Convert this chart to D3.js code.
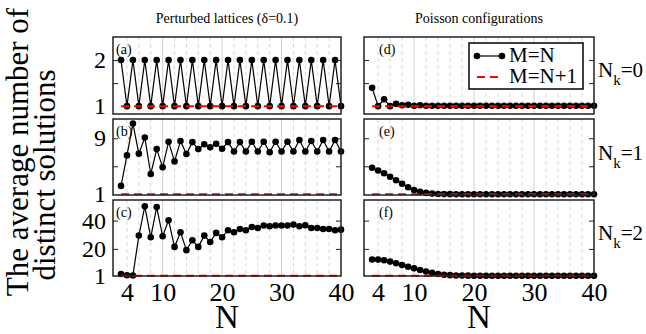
<!DOCTYPE html>
<html>
<head>
<meta charset="utf-8">
<script src="https://cdn.jsdelivr.net/npm/d3@7"></script>
<style>
  body { margin: 0; background: #fff; }
  svg { display: block; }
  svg text { font-family: "Liberation Serif", "Times New Roman", Tinos, "Nimbus Roman", "DejaVu Serif", serif !important; fill: #000; }
</style>
</head>
<body>
<svg id="chart" width="646" height="334"></svg>
<script>
// N values (system size)
const nValues = [3,4,5,6,7,8,9,10,11,12,13,14,15,16,17,18,19,20,21,22,23,24,25,26,27,28,29,30,31,32,33,34,35,36,37,38,39,40];

// Perturbed lattices, M=N
const latticeNk0 = [2,1,2,1,2,1,2,1,2,1,2,1,2,1,2,1,2,1,2,1,2,1,2,1,2,1,2,1,2,1,2,1,2,1,2,1,2,1];
const latticeNk1 = [2.2,6.55,11.1,6.8,9.1,3.9,7.45,4.85,8.5,5.7,8.6,6.75,8.45,7.45,8.15,7.7,8.2,7.5,8.45,7.1,8.45,7.1,8.5,7.1,8.5,7.0,8.5,7.1,8.5,7.1,8.75,7.1,8.6,7.1,8.75,7.1,8.75,7.1];
const latticeNk2 = [2.2,1.3,1.2,29.4,50.1,28.2,49.6,28.9,40.2,21.4,31.8,19.1,26.1,21.4,29.4,24.9,31.3,28.2,33.2,31.8,34.1,33.2,35.5,34.8,36.5,36,36.5,36.5,36.5,37.2,36,36.7,34.8,34.8,34.1,34.1,33.2,33.6];

// Poisson configurations, M=N
const poissonNk0 = [1.4,1.0,1.15,1.0,1.05,1.02,1.03,1.01,1.02,1.01,1.01,1.01,1.01,1.01,1.01,1.01,1.01,1.01,1.01,1.01,1.01,1.01,1.01,1.01,1.01,1.01,1.01,1.01,1.01,1.01,1.01,1.01,1.01,1.01,1.01,1.01,1.01,1.01];
const poissonNk1 = [4.8,4.4,4.0,3.5,3.0,2.5,2.0,1.6,1.35,1.2,1.1,1.05,1.03,1.02,1.01,1.01,1.01,1.01,1.01,1.01,1.01,1.01,1.01,1.01,1.01,1.01,1.01,1.01,1.01,1.01,1.01,1.01,1.01,1.01,1.01,1.01,1.01,1.01];
const poissonNk2 = [12.5,12.4,12.0,11.0,9.8,8.5,7.3,6.2,5.0,4.0,3.0,2.2,1.7,1.4,1.2,1.1,1.05,1.03,1.02,1.02,1.02,1.02,1.02,1.02,1.02,1.02,1.02,1.02,1.02,1.02,1.02,1.02,1.02,1.02,1.02,1.02,1.02,1.02];

// M=N+1 (always a single solution)
const plusOne = [1,1,1,1,1,1,1,1,1,1,1,1,1,1,1,1,1,1,1,1,1,1,1,1,1,1,1,1,1,1,1,1,1,1,1,1,1,1];

const xTicks = [4, 10, 20, 30, 40];
const xGridMajor = [10, 20, 30];
const xGridMinor = [4, 6, 8, 12, 14, 16, 18, 22, 24, 26, 28, 32, 34, 36, 38];
const yLabelTicks = [[1, 2], [1, 9], [1, 20, 40]];
const yMarkTicks = [[1.5, 2], [5, 9], [20, 40]];
const panelTags = [["(a)", "(d)"], ["(b)", "(e)"], ["(c)", "(f)"]];
const rowLabels = ["0", "1", "2"];
const colTitles = ["Perturbed lattices (\u03b4=0.1)", "Poisson configurations"];

const series = [[latticeNk0, poissonNk0], [latticeNk1, poissonNk1], [latticeNk2, poissonNk2]];

const SERIF = '"Liberation Serif", "Times New Roman", Tinos, "DejaVu Serif", serif';
const svg = d3.select("#chart").attr("font-family", SERIF);

// layout
const cols = [{ x0: 113, x1: 341, tagX: 116 }, { x0: 364, x1: 594, tagX: 379 }];
const rows = [
  { y0: 37, y1: 114, dom: [0.83, 2.5] },
  { y0: 119, y1: 195, dom: [0.9, 11.75] },
  { y0: 200, y1: 276, dom: [0.8, 54.6] }
];

rows.forEach((row, ri) => {
  const y = d3.scaleLinear().domain(row.dom).range([row.y1, row.y0]);
  cols.forEach((col, ci) => {
    const x = d3.scaleLinear().domain([1.65, 40]).range([col.x0, col.x1]);
    const g = svg.append("g");

    // vertical grid
    g.selectAll(".gmin").data(xGridMinor).join("line")
      .attr("x1", d => x(d)).attr("x2", d => x(d))
      .attr("y1", row.y0).attr("y2", row.y1)
      .attr("stroke", "#d9d9d9").attr("stroke-width", 1).attr("stroke-dasharray", "4,3");
    g.selectAll(".gmaj").data(xGridMajor).join("line")
      .attr("x1", d => x(d)).attr("x2", d => x(d))
      .attr("y1", row.y0).attr("y2", row.y1)
      .attr("stroke", "#cfcfcf").attr("stroke-width", 1);

    // inward ticks on both sides
    g.append("g").attr("transform", `translate(${col.x0},0)`)
      .call(d3.axisRight(y).tickValues(yMarkTicks[ri]).tickSize(5).tickFormat(""))
      .call(a => a.select(".domain").remove())
      .call(a => a.selectAll("line").attr("stroke", "#222"));
    g.append("g").attr("transform", `translate(${col.x1},0)`)
      .call(d3.axisLeft(y).tickValues(yMarkTicks[ri]).tickSize(5).tickFormat(""))
      .call(a => a.select(".domain").remove())
      .call(a => a.selectAll("line").attr("stroke", "#222"));

    // y tick labels on left column
    if (ci === 0) {
      g.append("g").attr("transform", `translate(${col.x0},0)`)
        .call(d3.axisLeft(y).tickValues(yLabelTicks[ri]).tickFormat(d3.format("d")).tickSize(0).tickPadding(7))
        .call(a => a.select(".domain").remove())
        .attr("font-family", SERIF).attr("font-size", 24);
    }

    // x tick labels on bottom row
    if (ri === 2) {
      g.append("g").attr("transform", `translate(0,${row.y1})`)
        .call(d3.axisBottom(x).tickValues(xTicks).tickFormat(d3.format("d")).tickSize(0).tickPadding(7))
        .call(a => a.select(".domain").remove())
        .attr("font-family", SERIF).attr("font-size", 26);
    }

    // M=N series
    const vals = series[ri][ci];
    const pts = nValues.map((n, i) => [n, vals[i]]);
    g.append("path").datum(pts)
      .attr("fill", "none").attr("stroke", "#000").attr("stroke-width", 1.2)
      .attr("d", d3.line().x(d => x(d[0])).y(d => y(d[1])));
    g.selectAll(".pt").data(pts).join("circle")
      .attr("cx", d => x(d[0])).attr("cy", d => y(d[1])).attr("r", 3.3)
      .attr("fill", "#000");

    // M=N+1 series
    const pts2 = nValues.map((n, i) => [n, plusOne[i]]);
    g.append("path").datum(pts2)
      .attr("fill", "none").attr("stroke", "#ff0000").attr("stroke-width", 2)
      .attr("stroke-dasharray", "8,5")
      .attr("d", d3.line().x(d => x(d[0])).y(d => y(d[1])));

    // frame
    g.append("rect")
      .attr("x", col.x0).attr("y", row.y0)
      .attr("width", col.x1 - col.x0).attr("height", row.y1 - row.y0)
      .attr("fill", "none").attr("stroke", "#222").attr("stroke-width", 1.5);

    g.append("text").attr("x", col.tagX).attr("y", row.y0 + 17)
      .attr("font-size", 14).text(panelTags[ri][ci]);
  });

  // N_k labels on right
  const t = svg.append("text").attr("x", 598).attr("y", [77, 160, 240][ri]).attr("font-size", 21);
  t.append("tspan").text("N");
  t.append("tspan").attr("dy", 8).attr("font-size", 15).text("k");
  t.append("tspan").attr("dy", -8).text("=" + rowLabels[ri]);
});

// column titles and x-axis titles
colTitles.forEach((s, i) => {
  const cx = (cols[i].x0 + cols[i].x1) / 2;
  svg.append("text").attr("x", cx).attr("y", 23)
    .attr("text-anchor", "middle").attr("font-size", 14).text(s);
  svg.append("text").attr("x", cx).attr("y", 328)
    .attr("text-anchor", "middle").attr("font-size", 33).text("N");
});

// y axis title
svg.append("text").attr("transform", "translate(28,152) rotate(-90)")
  .attr("text-anchor", "middle").attr("font-size", 31).text("The average number of");
svg.append("text").attr("transform", "translate(55,175) rotate(-90)")
  .attr("text-anchor", "middle").attr("font-size", 31).text("distinct solutions");

// legend
const lg = svg.append("g");
lg.append("rect").attr("x", 469).attr("y", 43).attr("width", 114).attr("height", 46)
  .attr("fill", "#fff").attr("stroke", "#000").attr("stroke-width", 1.5);
lg.append("line").attr("x1", 477).attr("x2", 502).attr("y1", 56).attr("y2", 56)
  .attr("stroke", "#000").attr("stroke-width", 1.2);
lg.selectAll(".lc").data([477, 502]).join("circle")
  .attr("cx", d => d).attr("cy", 56).attr("r", 3.3).attr("fill", "#000");
lg.append("text").attr("x", 509).attr("y", 62).attr("font-size", 21).text("M=N");
lg.append("line").attr("x1", 477).attr("x2", 502).attr("y1", 77).attr("y2", 77)
  .attr("stroke", "#ff0000").attr("stroke-width", 2).attr("stroke-dasharray", "8,5");
lg.append("text").attr("x", 509).attr("y", 83).attr("font-size", 21).text("M=N+1");
</script>
</body>
</html>
